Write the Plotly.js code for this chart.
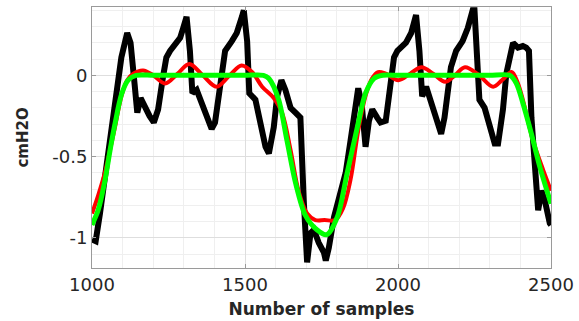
<!DOCTYPE html>
<html>
<head>
<meta charset="utf-8">
<script src="https://cdn.plot.ly/plotly-3.0.1.min.js"></script>
<style>html,body{margin:0;padding:0;background:#fff;}#chart{width:579px;height:321px;}</style>
</head>
<body>
<div id="chart"></div>
<script>
// Measured signal (black)
const measuredSamples = [1000,1012,1026,1053,1075,1096,1115,1126,1139,1148,1159,1172,1188,1202,1216,1232,1243,1255,1277,1288,1298,1309,1320,1328,1342,1358,1375,1391,1402,1424,1435,1457,1473,1490,1496,1507,1514,1534,1550,1567,1578,1594,1605,1619,1632,1649,1665,1681,1692,1703,1714,1725,1741,1758,1764,1774,1791,1807,1829,1845,1862,1870,1881,1894,1905,1916,1932,1943,1960,1976,1987,1998,2010,2026,2043,2059,2070,2079,2092,2108,2124,2141,2152,2173,2190,2211,2228,2244,2250,2258,2266,2283,2299,2316,2327,2343,2354,2365,2376,2392,2408,2419,2428,2436,2447,2458,2469,2480,2496,2500];
const measuredValues = [-1.01,-1.02,-0.85,-0.46,-0.15,0.11,0.26,0.20,-0.05,-0.23,-0.14,-0.20,-0.25,-0.29,-0.21,-0.01,0.11,0.15,0.20,0.23,0.29,0.36,0.15,-0.11,-0.09,-0.17,-0.26,-0.33,-0.29,0.05,0.15,0.21,0.26,0.36,0.40,0.21,-0.11,-0.15,-0.29,-0.44,-0.48,-0.32,-0.13,-0.03,-0.09,-0.20,-0.23,-0.26,-0.77,-1.15,-0.97,-0.95,-1.03,-1.09,-1.14,-1.06,-0.87,-0.75,-0.60,-0.40,-0.15,-0.08,-0.17,-0.44,-0.28,-0.21,-0.26,-0.29,-0.28,-0.05,0.11,0.15,0.17,0.20,0.26,0.37,0.15,-0.13,-0.07,-0.17,-0.28,-0.36,-0.26,0.05,0.15,0.21,0.29,0.40,0.40,0.05,-0.15,-0.20,-0.32,-0.42,-0.42,-0.21,0.01,0.13,0.20,0.17,0.18,0.17,0.15,-0.26,-0.56,-0.83,-0.71,-0.77,-0.91,-0.92];

// Red model
const redSamples = [1000,1020,1042,1060,1075,1096,1115,1135,1167,1200,1239,1280,1318,1362,1407,1450,1489,1523,1556,1594,1621,1649,1675,1703,1730,1760,1795,1820,1845,1870,1895,1915,1935,1960,2001,2040,2077,2115,2154,2186,2219,2265,2311,2340,2371,2390,2408,2441,2474,2500];
const redValues = [-0.85,-0.74,-0.60,-0.45,-0.32,-0.13,-0.03,0.01,0.03,0.0,-0.05,0.01,0.07,0.0,-0.07,0.0,0.06,0.02,-0.07,-0.14,-0.23,-0.46,-0.71,-0.85,-0.89,-0.89,-0.89,-0.82,-0.64,-0.34,-0.12,-0.02,0.02,0.01,-0.03,0.01,0.05,0.01,-0.04,0.0,0.05,0.0,-0.07,-0.03,0.02,-0.04,-0.15,-0.40,-0.58,-0.71];

// Green model
const greenSamples = [1000,1020,1042,1060,1075,1096,1118,1144,1200,1300,1400,1500,1560,1578,1610,1637,1665,1697,1735,1767,1802,1834,1867,1894,1921,1950,2000,2100,2200,2300,2365,2387,2408,2436,2463,2500];
const greenValues = [-0.92,-0.83,-0.65,-0.45,-0.30,-0.12,-0.03,0,0,0,0,0,0,-0.02,-0.15,-0.40,-0.66,-0.86,-0.95,-0.98,-0.87,-0.60,-0.32,-0.11,-0.02,0,0,0,0,0,0,-0.05,-0.17,-0.36,-0.56,-0.79];

const yTickVals = [-1, -0.5, 0];
const yTickText = ['-1', '-0.5', '0'];
const xTickVals = [1000, 1500, 2000, 2500];

const traces = [
  {x: measuredSamples, y: measuredValues, type: 'scatter', mode: 'lines', line: {color: '#000000', width: 6}, showlegend: false, hoverinfo: 'skip'},
  {x: redSamples, y: redValues, type: 'scatter', mode: 'lines', line: {color: '#ff0000', width: 4, shape: 'spline', smoothing: 1}, showlegend: false, hoverinfo: 'skip'},
  {x: greenSamples, y: greenValues, type: 'scatter', mode: 'lines', line: {color: '#00ff00', width: 5, shape: 'spline', smoothing: 0.8}, showlegend: false, hoverinfo: 'skip'}
];

const tickFont = {family: 'DejaVu Sans', size: 18, color: '#262626'};
const layout = {
  width: 579, height: 321,
  margin: {l: 92, r: 28, t: 7, b: 53},
  paper_bgcolor: '#ffffff', plot_bgcolor: '#ffffff',
  showlegend: false,
  xaxis: {
    range: [1000, 2500], tickmode: 'array', tickvals: xTickVals,
    showgrid: true, gridcolor: '#dedede', gridwidth: 1, zeroline: false,
    minor: {tickmode: 'linear', tick0: 1000, dtick: 100, showgrid: true, gridcolor: '#efefef', gridwidth: 1},
    ticks: 'inside', ticklen: 4, tickcolor: '#9a9a9a',
    showline: true, linecolor: '#9a9a9a', linewidth: 1, mirror: 'ticks',
    tickfont: tickFont,
    title: {text: 'Number of samples', font: {family: 'DejaVu Sans', size: 17, color: '#262626', weight: 'bold'}, standoff: 9}
  },
  yaxis: {
    range: [-1.185, 0.42], tickmode: 'array', tickvals: yTickVals, ticktext: yTickText,
    showgrid: true, gridcolor: '#dedede', gridwidth: 1, zeroline: false,
    minor: {tickmode: 'linear', tick0: 0, dtick: 0.1, showgrid: true, gridcolor: '#efefef', gridwidth: 1},
    ticks: 'inside', ticklen: 4, tickcolor: '#9a9a9a',
    showline: true, linecolor: '#9a9a9a', linewidth: 1, mirror: 'ticks',
    tickfont: tickFont,
    title: {text: 'cmH2O', font: {family: 'DejaVu Sans', size: 15, color: '#262626', weight: 'bold'}, standoff: 20}
  }
};

Plotly.newPlot('chart', traces, layout, {staticPlot: true, displayModeBar: false});
</script>
</body>
</html>
